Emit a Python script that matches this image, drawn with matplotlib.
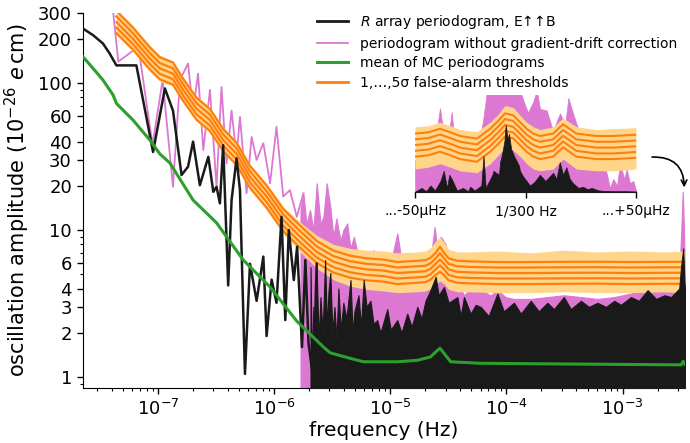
import numpy as np
import matplotlib
matplotlib.use("Agg")
import matplotlib.pyplot as plt
from matplotlib.ticker import FixedLocator, NullFormatter, FixedFormatter
from matplotlib.lines import Line2D

# ---------------- data ----------------
# R array periodogram (sparse low-frequency part), Hz / amplitude
blk_f = [2.27e-8, 2.77e-8, 3.37e-8, 3.85e-8, 4.40e-8, 6.54e-8, 9.10e-8, 1.15e-7, 1.35e-7,
         1.60e-7, 1.82e-7, 2.01e-7, 2.30e-7, 2.72e-7, 3.00e-7, 3.20e-7, 3.42e-7, 3.65e-7,
         4.03e-7, 4.31e-7, 4.76e-7, 5.09e-7, 5.62e-7, 6.21e-7, 7.08e-7, 8.09e-7, 8.63e-7,
         9.53e-7, 1.05e-6, 1.16e-6, 1.25e-6, 1.34e-6, 1.48e-6, 1.58e-6, 1.74e-6, 1.86e-6,
         1.98e-6, 2.18e-6, 2.33e-6]
blk_a = [235, 212, 186, 159, 132, 132, 34, 92, 65,
         23.7, 27, 40, 20.2, 31.5, 18.2, 19.7, 15.2, 37.8,
         4.2, 16, 30.7, 18.7, 1.05, 5.9, 3.3, 6.6, 1.9,
         4.6, 3.2, 12.3, 2.44, 10, 4.57, 7.7, 1.6, 6.25,
         1.7, 0.95, 5.9]
# R array periodogram, dense part: upper envelope
blkd_f = [2.06e-6, 2.12e-6, 2.18e-6, 2.25e-6, 2.32e-6, 2.42e-6, 2.51e-6, 2.62e-6, 2.75e-6,
          2.85e-6, 2.94e-6, 3.05e-6, 3.18e-6, 3.31e-6, 3.45e-6, 3.58e-6, 3.75e-6, 3.95e-6,
          4.20e-6, 4.55e-6, 4.75e-6, 4.92e-6, 5.33e-6, 5.60e-6, 5.91e-6, 6.25e-6, 6.76e-6,
          7.18e-6, 7.73e-6, 8.24e-6, 9.42e-6, 1.01e-5, 1.15e-5, 1.25e-5, 1.40e-5, 1.53e-5,
          1.71e-5, 1.86e-5, 2.01e-5, 2.22e-5, 2.46e-5, 2.61e-5, 2.90e-5, 3.18e-5, 3.78e-5,
          4.04e-5, 4.31e-5, 4.92e-5, 5.43e-5, 6.00e-5, 7.03e-5, 8.36e-5, 9.48e-5, 1.16e-4,
          1.33e-4, 1.62e-4, 1.90e-4, 2.25e-4, 2.56e-4, 3.12e-4, 3.58e-4, 4.38e-4, 5.12e-4,
          6.08e-4, 7.18e-4, 8.47e-4, 9.66e-4, 1.18e-3, 1.38e-3, 1.64e-3, 1.94e-3, 2.29e-3,
          2.61e-3, 2.79e-3, 3.07e-3, 3.18e-3, 3.32e-3, 3.40e-3, 3.44e-3]
blkd_a = [5.6, 1.2, 3.0, 1.5, 5.9, 1.8, 3.5, 2.0, 6.25,
          2.2, 3.8, 5.1, 2.0, 3.0, 1.8, 4.0, 2.1, 3.2,
          2.5, 4.57, 2.0, 2.8, 3.6, 2.2, 4.57, 3.0, 3.3,
          2.3, 2.44, 2.0, 2.9, 2.1, 2.44, 2.0, 2.7, 2.2,
          3.0, 2.5, 3.3, 3.9, 4.8, 3.6, 4.1, 3.2, 3.5,
          2.6, 3.5, 2.7, 3.1, 3.0, 2.6, 3.7, 2.8, 3.2,
          2.7, 3.3, 2.8, 3.2, 2.9, 3.5, 2.9, 3.3, 3.0,
          3.2, 3.0, 3.3, 3.1, 3.5, 3.3, 3.9, 3.4, 3.6,
          3.5, 3.7, 4.0, 5.6, 7.5, 4.5, 4.0]

# periodogram without gradient-drift correction (sparse part)
pnk_f = [3.85e-8, 4.57e-8, 6.80e-8, 9.00e-8, 1.10e-7, 1.35e-7, 1.55e-7, 1.82e-7, 2.01e-7,
         2.22e-7, 2.46e-7, 2.81e-7, 3.20e-7, 3.53e-7, 3.90e-7, 4.31e-7, 4.76e-7, 5.09e-7,
         5.80e-7, 6.41e-7, 7.08e-7, 8.09e-7, 9.24e-7, 1.05e-6, 1.20e-6, 1.37e-6, 1.57e-6,
         1.79e-6]
pnk_a = [520, 140, 177, 38, 105, 19.7, 105, 136, 65,
         116, 35, 90, 19.7, 94, 28.4, 65, 31.5, 59,
         17.8, 43, 30, 39, 20.8, 50.5, 16.9, 18.7, 12.3,
         17.8]
# dense part: upper envelope
pnkd_f = [1.69e-6, 1.79e-6, 1.90e-6, 2.04e-6, 2.18e-6, 2.33e-6, 2.51e-6, 2.66e-6, 2.84e-6,
          3.05e-6, 3.24e-6, 3.44e-6, 3.73e-6, 3.95e-6, 4.26e-6, 4.55e-6, 4.86e-6, 5.33e-6,
          5.91e-6, 6.50e-6, 7.22e-6, 7.93e-6, 8.81e-6, 1.01e-5, 1.15e-5, 1.28e-5, 1.50e-5,
          1.75e-5, 2.01e-5, 2.22e-5, 2.41e-5, 2.56e-5, 2.72e-5, 3.00e-5, 3.31e-5, 3.73e-5,
          4.31e-5, 4.92e-5, 6.00e-5, 7.33e-5, 8.36e-5, 9.86e-5, 1.16e-4, 1.62e-4, 2.25e-4,
          3.12e-4, 4.38e-4, 6.08e-4, 8.47e-4, 1.18e-3, 1.64e-3, 2.29e-3, 2.79e-3, 3.07e-3,
          3.18e-3, 3.29e-3, 3.37e-3, 3.44e-3]
pnkd_a = [14, 17.8, 11, 13.7, 10, 20.8, 11, 12.3, 20.8,
          14.4, 9, 12, 8.5, 10, 11.1, 7.5, 9.0, 6.5,
          5.9, 6.5, 7.3, 5.0, 4.57, 6.0, 9.5, 5.5, 5.3,
          4.8, 6.0, 6.25, 10.5, 7.0, 9.0, 8.0, 5.1, 4.5,
          3.6, 4.0, 3.9, 3.6, 3.9, 3.5, 3.4, 3.4, 3.5,
          3.6, 3.5, 3.4, 3.5, 3.7, 4.0, 3.8, 3.9, 5.0,
          9.0, 18.2, 10, 5.0]

# mean of Monte-Carlo periodograms
mc_f = [2.27e-8, 2.77e-8, 3.37e-8, 4.12e-8, 4.40e-8, 4.70e-8, 6.12e-8, 8.53e-8, 1.04e-7,
        1.27e-7, 2.01e-7, 3.20e-7, 5.44e-7, 9.24e-7, 1.57e-6, 2.66e-6, 3.05e-6, 4.52e-6,
        5.91e-6, 1.15e-5, 1.71e-5, 2.22e-5, 2.46e-5, 2.68e-5, 2.90e-5, 3.31e-5, 6.00e-5,
        2.0e-4, 8.0e-4, 3.18e-3, 3.32e-3, 3.44e-3]
mc_a = [151, 126, 105, 83, 72.8, 69, 56, 41, 33,
        28.6, 16, 11.2, 6.25, 4.1, 2.4, 1.6, 1.46, 1.34,
        1.27, 1.27, 1.30, 1.37, 1.48, 1.57, 1.45, 1.27, 1.24,
        1.23, 1.22, 1.21, 1.28, 1.22]

# 1..5 sigma false-alarm thresholds and their shaded band
thr_f = [4.40e-8, 6.12e-8, 8.53e-8, 1.04e-7, 1.35e-7, 1.65e-7, 2.15e-7, 2.81e-7, 3.65e-7,
         4.76e-7, 6.21e-7, 8.63e-7, 1.20e-6, 1.68e-6, 2.33e-6, 3.24e-6, 4.52e-6, 6.28e-6,
         8.75e-6, 1.15e-5, 1.71e-5, 2.01e-5, 2.22e-5, 2.46e-5, 2.68e-5, 2.90e-5, 3.18e-5,
         3.78e-5, 4.92e-5, 8.36e-5, 1.62e-4, 3.12e-4, 6.08e-4, 1.18e-3, 2.29e-3, 3.44e-3]
thr_1s = [219, 169, 124, 106.1, 97.7, 75.8, 56.4, 47.2, 34.5, 27.8, 19.4, 14.2, 9.85,
          7.58, 5.98, 5.14, 4.74, 4.55, 4.46, 4.29, 4.38, 4.42, 4.6, 4.95, 5.2, 4.95, 4.55,
          4.38, 4.34, 4.29, 4.29, 4.31, 4.32, 4.29, 4.31, 4.31]
thr_2s = [239, 184, 135, 115.5, 106.4, 82.5, 61.4, 51.4, 37.6, 30.3, 21.1, 15.5, 10.7,
          8.25, 6.51, 5.59, 5.16, 4.95, 4.86, 4.68, 4.77, 4.81, 5.0, 5.41, 5.75, 5.41, 4.95,
          4.77, 4.72, 4.68, 4.68, 4.69, 4.70, 4.68, 4.69, 4.69]
thr_3s = [260, 200, 147, 126, 116, 90, 67, 56, 41, 33, 23, 16.9, 11.7,
          9.0, 7.1, 6.1, 5.63, 5.4, 5.3, 5.1, 5.2, 5.25, 5.45, 5.9, 6.3, 5.9, 5.4,
          5.2, 5.15, 5.1, 5.1, 5.12, 5.13, 5.1, 5.12, 5.12]
thr_4s = [284, 218, 160, 137, 126, 98, 73, 61, 44.7, 36, 25.1, 18.4, 12.8,
          9.81, 7.74, 6.65, 6.14, 5.89, 5.78, 5.56, 5.67, 5.72, 5.94, 6.43, 6.95, 6.43, 5.89,
          5.67, 5.61, 5.56, 5.56, 5.58, 5.59, 5.56, 5.58, 5.58]
thr_5s = [310, 238, 175, 150, 138, 107, 79.6, 66.5, 48.7, 39.2, 27.3, 20.1, 13.9,
          10.7, 8.43, 7.25, 6.69, 6.42, 6.30, 6.06, 6.18, 6.24, 6.47, 7.0, 7.7, 7.0, 6.42,
          6.18, 6.12, 6.06, 6.06, 6.08, 6.09, 6.06, 6.08, 6.08]
band_hi = [320, 246, 181, 155, 142, 110, 82, 68.5, 50.2, 40.4, 28.1, 20.8, 14.5,
           11.3, 9.2, 8.0, 7.5, 7.3, 7.2, 7.0, 7.1, 7.2, 7.6, 8.4, 9.0, 8.3, 7.4,
           7.1, 7.1, 7.2, 7.0, 7.3, 7.1, 7.2, 7.1, 7.2]
band_lo = [212, 164, 120, 103, 95, 73.6, 54.8, 45.8, 33.5, 27.0, 18.8, 13.7, 9.4,
           7.1, 5.5, 4.6, 4.15, 3.95, 3.85, 3.75, 3.8, 3.85, 4.0, 4.3, 4.5, 4.3, 3.95,
           3.8, 3.8, 3.75, 3.75, 3.8, 3.75, 3.75, 3.8, 3.75]

# inset: +-50 uHz around 1/300 Hz (offset in uHz)
ins_f = [-50, -44, -38.7, -34, -29.6, -22, -16, -12, -9.3, -5.6, -2, 0.5, 3.5, 6.6,
         12.5, 17, 23, 32, 39.7, 50]
ins_1s = [4.25, 4.34, 4.59, 4.34, 4.09, 3.92, 4.59, 5.25, 5.84, 5.67, 5.0, 4.59, 4.25, 4.09,
          4.25, 4.92, 4.25, 4.09, 4.09, 4.17]
ins_2s = [4.66, 4.75, 5.02, 4.75, 4.47, 4.29, 5.02, 5.75, 6.39, 6.21, 5.48, 5.02, 4.66, 4.47,
          4.66, 5.39, 4.66, 4.47, 4.47, 4.57]
ins_3s = [5.1, 5.2, 5.5, 5.2, 4.9, 4.7, 5.5, 6.3, 7.0, 6.8, 6.0, 5.5, 5.1, 4.9,
          5.1, 5.9, 5.1, 4.9, 4.9, 5.0]
ins_4s = [5.58, 5.69, 6.02, 5.69, 5.37, 5.15, 6.02, 6.9, 7.67, 7.45, 6.57, 6.02, 5.58, 5.37,
          5.58, 6.46, 5.58, 5.37, 5.37, 5.48]
ins_5s = [6.11, 6.23, 6.59, 6.23, 5.88, 5.64, 6.59, 7.55, 8.39, 8.15, 7.19, 6.59, 6.11, 5.88,
          6.11, 7.07, 6.11, 5.88, 5.88, 6.0]
ins_hi = [6.8, 6.9, 7.3, 6.9, 6.5, 6.3, 7.3, 8.4, 9.5, 9.2, 8.0, 7.3, 6.8, 6.5,
          6.8, 7.8, 6.8, 6.5, 6.6, 6.7]
ins_lo = [3.5, 3.6, 3.8, 3.6, 3.4, 3.3, 3.8, 4.4, 4.9, 4.7, 4.2, 3.8, 3.5, 3.4,
          3.5, 4.1, 3.5, 3.4, 3.4, 3.5]
ins_pf = [-50, -43.2, -40.5, -38.7, -37.3, -35, -33.4, -31.9, -28.3, -25.1, -21.5, -19.2,
          -17.6, -14.7, -2.5, -1.1, 1.1, 3.4, 5.1, 6.6, 9.6, 12.4, 15.6, 17.9, 19.4, 21.5,
          24.7, 27.7, 30.1, 32.2, 35.1, 36.9, 38.2, 39.7, 41.4, 42.8, 44.6, 45.8, 47.3, 48.8, 50]
ins_pa = [4.0, 4.5, 6.0, 9.1, 6.5, 5.5, 8.6, 5.0, 4.5, 4.8, 5.0, 7.5,
          11.5, 12, 12, 10.4, 8.5, 10, 12, 9.0, 8.8, 6.4, 8.4, 7.0, 10.7, 8.4,
          6.0, 6.4, 5.0, 4.2, 3.9, 3.2, 2.6, 3.0, 2.7, 3.9, 3.0, 3.5, 2.8, 2.9, 2.5]
ins_bf = [-50, -47, -45, -43, -41, -38.5, -37, -35.5, -34.5, -33.4, -31, -28.3, -26, -25,
          -23, -20, -19, -18, -15, -14.5, -12, -11.5, -10.5, -9.5, -9.0, -8.0, -7.5, -6.5,
          -5.2, -3.0, -2.5, -1, 0.5, 2, 4, 6.5, 9, 12.5, 14, 15.5, 17, 18.5, 20, 21.5, 24,
          26, 28, 30, 33, 36, 40, 45, 50]
ins_ba = [2.45, 2.6, 2.47, 2.7, 2.5, 2.9, 3.4, 2.6, 3.2, 3.0, 2.5, 2.6, 2.47, 2.65,
          2.5, 2.7, 4.3, 2.6, 3.2, 3.4, 3.2, 3.9, 4.5, 5.5, 7.0, 5.5, 6.1, 4.8,
          4.3, 3.7, 3.4, 3.1, 2.9, 2.7, 2.85, 3.2, 2.9, 3.3, 3.0, 3.9, 3.2, 3.6, 3.0, 2.8, 2.6,
          2.65, 2.55, 2.6, 2.5, 2.48, 2.47, 2.47, 2.46]

y_major = [1, 2, 3, 4, 6, 10, 20, 30, 40, 60, 100, 200, 300]
y_minor = [0.9, 5, 7, 8, 9, 50, 70, 80, 90]
inset_ticks = [-50, 0, 50]
inset_labels = ["...-50µHz", "1/300 Hz", "...+50µHz"]

# ---------------- styling ----------------
C_BLK = "#1a1a1a"
C_PNK = "#dc78d2"
C_GRN = "#2ca02c"
C_ORG = "#ff7f0e"
C_YEL = "#ffd589"

plt.rcParams["font.family"] = ["DejaVu Sans"]
W, H = 690, 443
fig = plt.figure(figsize=(W / 100, H / 100), dpi=100)
ax = fig.add_axes([83 / W, 1 - 388 / H, (685 - 83) / W, (388 - 13) / H])
ax.set_xscale("log")
ax.set_yscale("log")
ax.set_xlim(2.27e-8, 3.44e-3)
ax.set_ylim(0.842, 300)
ybot = 0.5

# pink
ax.plot(pnk_f, pnk_a, color=C_PNK, lw=1.3, zorder=1)
ax.fill_between(pnkd_f, ybot, pnkd_a, color=C_PNK, lw=0.8, edgecolor=C_PNK, zorder=1)
# threshold band + lines
ax.fill_between(thr_f, band_lo, band_hi, color=C_YEL, lw=0, zorder=2)
for t in (thr_1s, thr_2s, thr_3s, thr_4s, thr_5s):
    ax.plot(thr_f, t, color=C_ORG, lw=1.6, zorder=3)
# black
ax.plot(blk_f, blk_a, color=C_BLK, lw=1.8, zorder=4)
ax.fill_between(blkd_f, ybot, blkd_a, color=C_BLK, lw=0.8, edgecolor=C_BLK, zorder=4)
# green
ax.plot(mc_f, mc_a, color=C_GRN, lw=2.2, zorder=5)

for s in ("top", "right"):
    ax.spines[s].set_visible(False)
ax.yaxis.set_major_locator(FixedLocator(y_major))
ax.yaxis.set_major_formatter(FixedFormatter([str(v) for v in y_major]))
ax.yaxis.set_minor_locator(FixedLocator(y_minor))
ax.yaxis.set_minor_formatter(NullFormatter())
ax.tick_params(which="major", labelsize=13, length=4.5, width=1)
ax.tick_params(which="minor", length=2.5, width=0.8)
ax.set_xlabel("frequency (Hz)", fontsize=14.5, labelpad=1)
ax.set_ylabel("oscillation amplitude (10$^{-26}$ $e\\,$cm)", fontsize=15, labelpad=4)

# legend
handles = [Line2D([], [], color=C_BLK, lw=2),
           Line2D([], [], color=C_PNK, lw=1.3),
           Line2D([], [], color=C_GRN, lw=2.2),
           Line2D([], [], color=C_ORG, lw=2)]
labels = ["$R$ array periodogram, E↑↑B",
          "periodogram without gradient-drift correction",
          "mean of MC periodograms",
          "1,…,5σ false-alarm thresholds"]
ax.legend(handles, labels, loc="upper left", bbox_to_anchor=(0.368, 1.033), frameon=False,
          fontsize=10, handlelength=2.2, handletextpad=0.9, labelspacing=0.4)

# inset
ins = fig.add_axes([415 / W, 1 - 191.7 / H, 221 / W, 96.7 / H])
ins.set_facecolor("none")
ins.set_yscale("log")
ins.set_xlim(-50, 50)
ins.set_ylim(2.45, 11.2)
ins.fill_between(ins_pf, 1, ins_pa, color=C_PNK, lw=0.5, edgecolor=C_PNK, zorder=1)
ins.fill_between(ins_f, ins_lo, ins_hi, color=C_YEL, lw=0, zorder=2)
for t in (ins_1s, ins_2s, ins_3s, ins_4s, ins_5s):
    ins.plot(ins_f, t, color=C_ORG, lw=1.5, zorder=3)
ins.fill_between(ins_bf, 1, ins_ba, color=C_BLK, lw=0.5, edgecolor=C_BLK, zorder=4)
for s in ("top", "right", "left"):
    ins.spines[s].set_visible(False)
ins.set_yticks([])
ins.yaxis.set_minor_locator(FixedLocator([]))
ins.set_xticks(inset_ticks)
ins.set_xticklabels(inset_labels)
ins.tick_params(axis="x", labelsize=10, length=4, width=1, pad=5)

# arrow from inset to the 1/300 Hz bin
ax.annotate("", xy=(3.39e-3, 19.5), xytext=(1.79e-3, 31.4),
            arrowprops=dict(arrowstyle="->", color="black", lw=1.2,
                            connectionstyle="arc3,rad=-0.5", shrinkA=0, shrinkB=0))

fig.savefig("out.png", dpi=100)
